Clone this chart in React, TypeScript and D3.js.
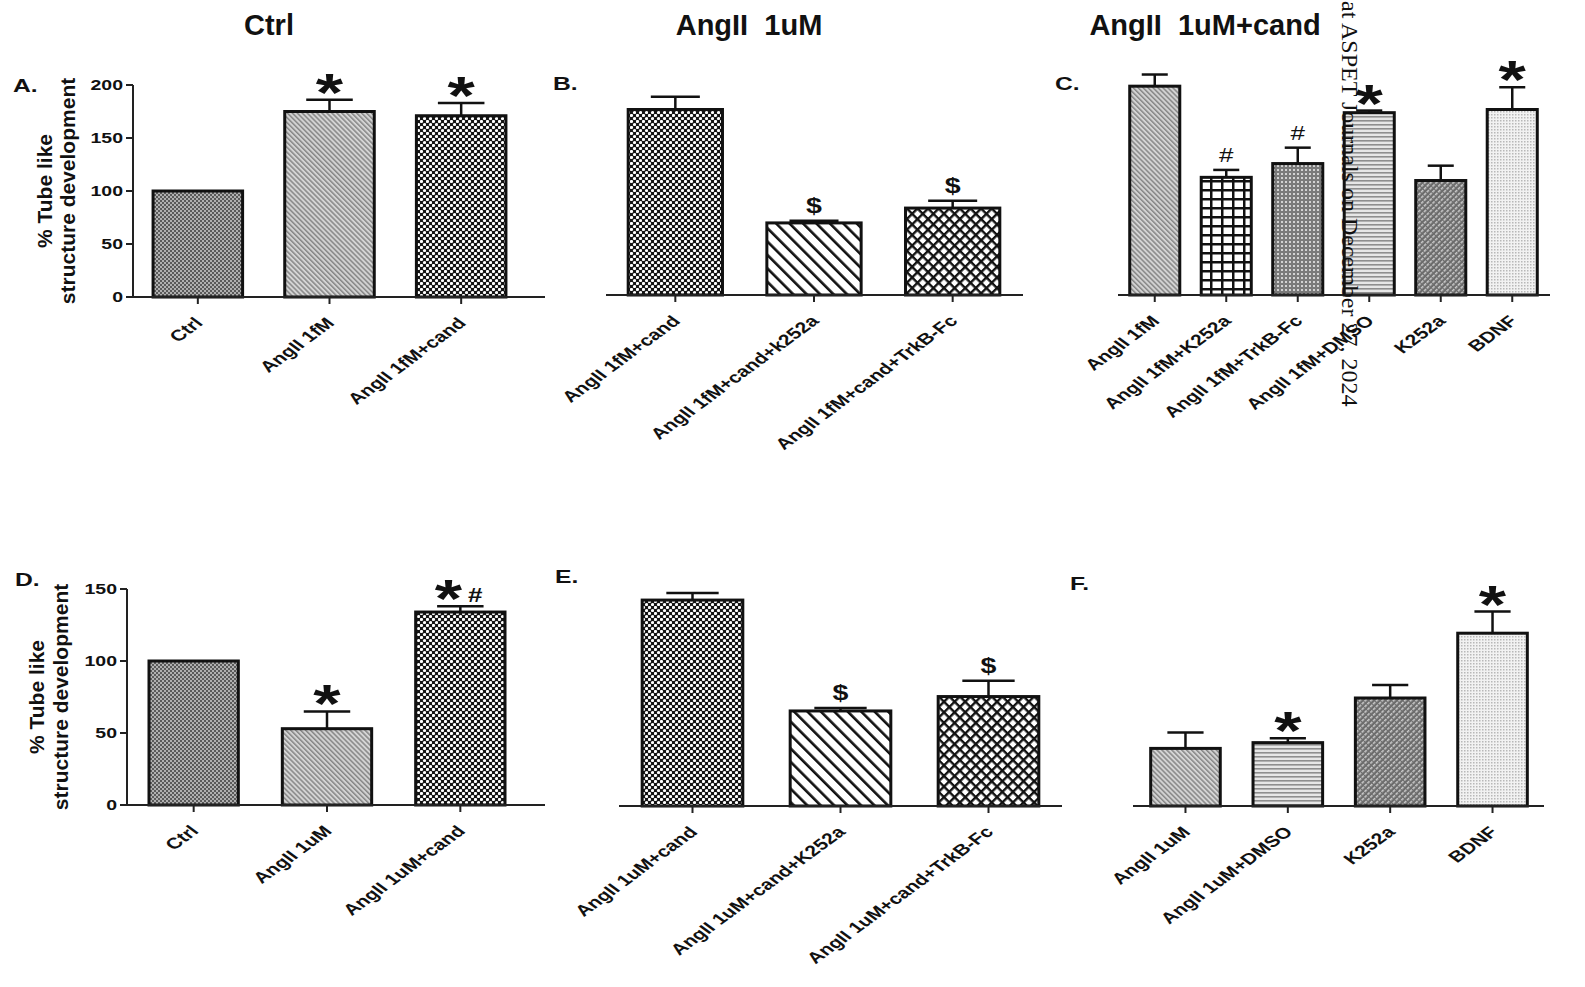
import * as d3 from 'd3';

const FONT = '"Liberation Sans", Arial, Helvetica, sans-serif';
const SERIF = '"Liberation Serif", "Times New Roman", serif';
// the scanned figure is stretched sideways; panel text is drawn with the same stretch
const SX = 1.3;
const SX_LABEL = 1.36;

// ---- data ----
const catsA = ['Ctrl', 'AngII 1fM', 'AngII 1fM+cand'];
const valsA = [100, 175, 171];
const errsA = [0, 11, 12];
const sigA = ['', '*', '*'];

const catsB = ['AngII 1fM+cand', 'AngII 1fM+cand+k252a', 'AngII 1fM+cand+TrkB-Fc'];
const valsB = [175, 68, 82];
const errsB = [12, 2, 7];
const sigB = ['', '$', '$'];

const catsC = ['AngII 1fM', 'AngII 1fM+K252a', 'AngII 1fM+TrkB-Fc', 'AngII 1fM+DMSO', 'K252a', 'BDNF'];
const valsC = [197, 111, 124, 172, 108, 175];
const errsC = [11, 7, 15, 2, 14, 21];
const sigC = ['', '#', '#', '*', '', '*'];

const catsD = ['Ctrl', 'AngII 1uM', 'AngII 1uM+cand'];
const valsD = [100, 53, 134];
const errsD = [0, 12, 4];
const sigD = ['', '*', '*#'];

const catsE = ['AngII 1uM+cand', 'AngII 1uM+cand+K252a', 'AngII 1uM+cand+TrkB-Fc'];
const valsE = [143, 66, 76];
const errsE = [5, 2, 11];
const sigE = ['', '$', '$'];

const catsF = ['AngII 1uM', 'AngII 1uM+DMSO', 'K252a', 'BDNF'];
const valsF = [40, 44, 75, 120];
const errsF = [11, 3, 9, 15];
const sigF = ['', '*', '', '*'];

const ticksTop = [0, 50, 100, 150, 200];
const ticksBottom = [0, 50, 100, 150];

const columnTitles = ['Ctrl', 'AngII  1uM', 'AngII  1uM+cand'];
const yTitle = ['% Tube like', 'structure development'];
const watermark = 'at ASPET Journals on December 27, 2024';

// fill pattern per bar (style, kept apart from the values)
const fillsA = ['ctrl', 'angii', 'cand'];
const fillsB = ['cand', 'hatch', 'cross'];
const fillsC = ['angii', 'grid', 'gdots', 'dmso', 'k252', 'bdnf'];
const fillsD = ['ctrl', 'angii', 'cand'];
const fillsE = ['cand', 'hatch', 'cross'];
const fillsF = ['angii', 'dmso', 'k252', 'bdnf'];

interface PanelProps {
    letter: string;
    letterPos: [number, number];
    cats: string[];
    vals: number[];
    errs: number[];
    sig: string[];
    fills: string[];
    band: [number, number];
    pad: number;
    baseExtent: [number, number];
    yDomain: [number, number];
    yRange: [number, number];
    ticks?: number[];
    axisX?: number;
    titleX?: [number, number];
    titleY?: number;
}

function Patterns() {
    return (
        <defs>
            <pattern id="p-ctrl" width={4} height={4} patternUnits="userSpaceOnUse">
                <rect width={4} height={4} fill="#b0b0b0" />
                <rect width={2} height={2} fill="#5a5a5a" />
                <rect x={2} y={2} width={2} height={2} fill="#5a5a5a" />
            </pattern>
            <pattern id="p-angii" width={3.5} height={3.5} patternUnits="userSpaceOnUse" patternTransform="rotate(-45)">
                <rect width={3.5} height={3.5} fill="#d4d4d4" />
                <rect width={1.5} height={3.5} fill="#868686" />
            </pattern>
            <pattern id="p-cand" width={6} height={6} patternUnits="userSpaceOnUse">
                <rect width={6} height={6} fill="#141414" />
                <circle cx={1.5} cy={1.5} r={1.6} fill="#fff" />
                <circle cx={4.5} cy={4.5} r={1.6} fill="#fff" />
            </pattern>
            <pattern id="p-hatch" width={9.5} height={9.5} patternUnits="userSpaceOnUse" patternTransform="rotate(-45)">
                <rect width={9.5} height={9.5} fill="#fff" />
                <rect width={2.6} height={9.5} fill="#111" />
            </pattern>
            <pattern id="p-cross" width={7.5} height={7.5} patternUnits="userSpaceOnUse" patternTransform="rotate(45)">
                <rect width={7.5} height={7.5} fill="#fff" />
                <rect width={2.4} height={7.5} fill="#111" />
                <rect width={7.5} height={2.4} fill="#111" />
            </pattern>
            <pattern id="p-grid" width={11} height={9} patternUnits="userSpaceOnUse">
                <rect width={11} height={9} fill="#fff" />
                <rect width={2.5} height={9} fill="#111" />
                <rect width={11} height={2.5} fill="#111" />
            </pattern>
            <pattern id="p-gdots" width={4} height={4} patternUnits="userSpaceOnUse">
                <rect width={4} height={4} fill="#7a7a7a" />
                <rect x={1} y={1} width={2} height={2} fill="#d2d2d2" />
            </pattern>
            <pattern id="p-dmso" width={4} height={4} patternUnits="userSpaceOnUse">
                <rect width={4} height={4} fill="#e6e6e6" />
                <rect width={4} height={1.6} fill="#8e8e8e" />
            </pattern>
            <pattern id="p-k252" width={4} height={4} patternUnits="userSpaceOnUse" patternTransform="rotate(45)">
                <rect width={4} height={4} fill="#6c6c6c" />
                <rect width={1.6} height={3} fill="#cacaca" />
            </pattern>
            <pattern id="p-bdnf" width={3} height={3} patternUnits="userSpaceOnUse">
                <rect width={3} height={3} fill="#f2f2f2" />
                <rect width={1.5} height={1.5} fill="#b8b8b8" />
            </pattern>
        </defs>
    );
}

function SigMark({ mark, cx, top }: { mark: string; cx: number; top: number }) {
    const parts: [string, number][] = mark === '*#' ? [['*', -12], ['#', 15]] : [[mark, 0]];
    return (
        <g>
            {parts.map(([m, dx]) => {
                if (m === '*') {
                    return (
                        <text key={m} transform={`translate(${cx + dx},${top + 11}) scale(${SX},1)`}
                            fontSize={54} fontWeight="bold" textAnchor="middle" fill="#111">*</text>
                    );
                }
                return (
                    <text key={m} transform={`translate(${cx + dx},${top - (mark === '*#' ? 4 : 8)}) scale(${SX},1)`}
                        fontSize={m === '$' ? 22 : 20} fontWeight={m === '$' || mark === '*#' ? 'bold' : 'normal'}
                        textAnchor="middle" fill="#111">{m}</text>
                );
            })}
        </g>
    );
}

function Panel({ letter, letterPos, cats, vals, errs, sig, fills, band, pad, baseExtent, yDomain, yRange, ticks, axisX, titleX, titleY }: PanelProps) {
    const x = d3.scaleBand<string>().domain(cats).range(band).paddingInner(pad).paddingOuter(pad / 2);
    const y = d3.scaleLinear().domain(yDomain).range(yRange);
    const y0 = y(0);
    const bw = x.bandwidth();

    return (
        <g fontFamily={FONT}>
            <text transform={`translate(${letterPos[0]},${letterPos[1]}) scale(${SX},1)`} fontSize={19} fontWeight="bold" fill="#111">{letter}</text>

            {/* bars */}
            {cats.map((c, i) => (
                <rect key={c} x={x(c)} y={y(vals[i])} width={bw} height={y0 - y(vals[i])}
                    fill={`url(#p-${fills[i]})`} stroke="#111" strokeWidth={3} />
            ))}

            {/* error bars */}
            {cats.map((c, i) => {
                if (!errs[i]) return null;
                const cx = (x(c) ?? 0) + bw / 2;
                return (
                    <g key={c} stroke="#111" strokeWidth={2.5}>
                        <line x1={cx} x2={cx} y1={y(vals[i])} y2={y(vals[i] + errs[i])} />
                        <line x1={cx - bw * 0.26} x2={cx + bw * 0.26} y1={y(vals[i] + errs[i])} y2={y(vals[i] + errs[i])} />
                    </g>
                );
            })}

            {/* significance marks */}
            {cats.map((c, i) => sig[i] ? (
                <SigMark key={c} mark={sig[i]} cx={(x(c) ?? 0) + bw / 2} top={y(vals[i] + errs[i])} />
            ) : null)}

            {/* x axis */}
            <line x1={baseExtent[0]} x2={baseExtent[1]} y1={y0} y2={y0} stroke="#222" strokeWidth={2} />
            {cats.map((c) => {
                const cx = (x(c) ?? 0) + bw / 2;
                return (
                    <g key={c}>
                        <line x1={cx} x2={cx} y1={y0} y2={y0 + 7} stroke="#222" strokeWidth={2} />
                        <text transform={`translate(${cx + 6},${y0 + 27}) scale(${SX_LABEL},1) rotate(-45)`}
                            fontSize={15.5} fontWeight="bold" textAnchor="end" fill="#111">{c}</text>
                    </g>
                );
            })}

            {/* y axis (only first column) */}
            {ticks && axisX !== undefined && (
                <g>
                    <line x1={axisX} x2={axisX} y1={y0} y2={y(yDomain[1])} stroke="#222" strokeWidth={2} />
                    {ticks.map((t) => (
                        <g key={t}>
                            <line x1={axisX - 7} x2={axisX} y1={y(t)} y2={y(t)} stroke="#222" strokeWidth={2} />
                            <text transform={`translate(${axisX - 10},${y(t) + 5}) scale(${SX},1)`}
                                fontSize={15} fontWeight="bold" textAnchor="end" fill="#111">{t}</text>
                        </g>
                    ))}
                </g>
            )}
            {titleX && titleY !== undefined && yTitle.map((t, i) => (
                <text key={t} transform={`translate(${titleX[i]},${titleY}) rotate(-90)`}
                    fontSize={21} fontWeight="bold" textAnchor="middle" fill="#111">{t}</text>
            ))}
        </g>
    );
}

export default function App() {
    const top = d3.scaleLinear().domain([0, 200]);
    const bottom = d3.scaleLinear().domain([0, 150]);

    return (
        <div style={{ position: 'absolute', left: 0, top: 0, background: '#fff' }}>
            <svg width={1585} height={987} style={{ display: 'block' }}>
                <Patterns />
                <rect width={1585} height={987} fill="#fff" />

                {/* column titles */}
                <g fontFamily={FONT} fontSize={29} fontWeight="bold" fill="#111" textAnchor="middle">
                    {columnTitles.map((t, i) => (
                        <text key={t} x={[269, 749, 1205][i]} y={35} xmlSpace="preserve" style={{ whiteSpace: 'pre' }}>{t}</text>
                    ))}
                </g>

                <Panel letter="A." letterPos={[13, 92]} cats={catsA} vals={valsA} errs={errsA} sig={sigA} fills={fillsA}
                    band={[132, 527]} pad={0.32} baseExtent={[133, 545]}
                    yDomain={top.domain() as [number, number]} yRange={[297, 85]}
                    ticks={ticksTop} axisX={133} titleX={[52, 75]} titleY={191} />
                <Panel letter="B." letterPos={[553, 90]} cats={catsB} vals={valsB} errs={errsB} sig={sigB} fills={fillsB}
                    band={[606, 1022]} pad={0.32} baseExtent={[606, 1023]}
                    yDomain={top.domain() as [number, number]} yRange={[295, 83]} />
                <Panel letter="C." letterPos={[1055, 90]} cats={catsC} vals={valsC} errs={errsC} sig={sigC} fills={fillsC}
                    band={[1119, 1548]} pad={0.3} baseExtent={[1118, 1550]}
                    yDomain={top.domain() as [number, number]} yRange={[295, 83]} />

                <Panel letter="D." letterPos={[15, 586]} cats={catsD} vals={valsD} errs={errsD} sig={sigD} fills={fillsD}
                    band={[127, 527]} pad={0.33} baseExtent={[127, 545]}
                    yDomain={bottom.domain() as [number, number]} yRange={[805, 589]}
                    ticks={ticksBottom} axisX={127} titleX={[44, 68]} titleY={697} />
                <Panel letter="E." letterPos={[555, 583]} cats={catsE} vals={valsE} errs={errsE} sig={sigE} fills={fillsE}
                    band={[618.5, 1062.5]} pad={0.32} baseExtent={[619, 1062]}
                    yDomain={bottom.domain() as [number, number]} yRange={[806, 590]} />
                <Panel letter="F." letterPos={[1070, 590]} cats={catsF} vals={valsF} errs={errsF} sig={sigF} fills={fillsF}
                    band={[1134.3, 1543.7]} pad={0.32} baseExtent={[1133, 1544]}
                    yDomain={bottom.domain() as [number, number]} yRange={[806, 590]} />

                {/* journal watermark */}
                <text transform="translate(1342,1) rotate(90)" fontFamily={SERIF} fontSize={24} fill="#111">{watermark}</text>
            </svg>
        </div>
    );
}
